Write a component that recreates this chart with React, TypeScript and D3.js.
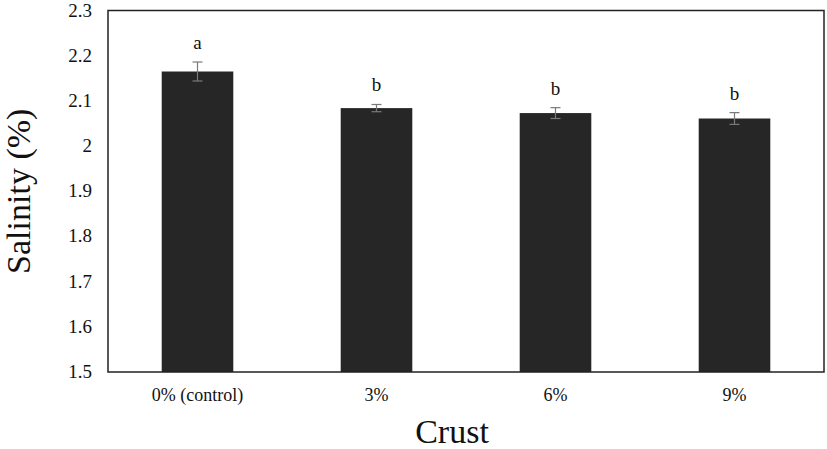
import React from "react";
import * as d3 from "d3";

const categories = ["0% (control)", "3%", "6%", "9%"];
const values = [2.165, 2.084, 2.073, 2.061];
const errors = [0.021, 0.008, 0.012, 0.013];
const letters = ["a", "b", "b", "b"];
const yTicks = [1.5, 1.6, 1.7, 1.8, 1.9, 2.0, 2.1, 2.2, 2.3];

const W = 827;
const H = 449;
const M = { left: 108, right: 3, top: 10.5, bottom: 77 };

export default function App() {
  const x = d3
    .scaleBand<string>()
    .domain(categories)
    .range([M.left, W - M.right])
    .paddingInner(0.6)
    .paddingOuter(0.3);
  const y = d3.scaleLinear().domain([1.5, 2.3]).range([H - M.bottom, M.top]);
  const font = "'Liberation Serif', 'Times New Roman', serif";
  const fmt = (v: number) => (Math.abs(v - 2) < 1e-9 ? "2" : d3.format(".1f")(v));
  return (
    <div style={{ position: "absolute", left: 0, top: 0 }}>
      <svg width={W} height={H} style={{ display: "block", background: "#fff" }}>
        {categories.map((c, i) => {
          const bx = x(c)!;
          const bw = x.bandwidth();
          const cx = bx + bw / 2;
          const top = y(values[i]);
          const eTop = y(values[i] + errors[i]);
          const eBot = y(values[i] - errors[i]);
          return (
            <g key={c}>
              <rect x={bx} y={top} width={bw} height={y(1.5) - top} fill="#262626" />
              <line x1={cx} x2={cx} y1={eTop} y2={eBot} stroke="#7a7a7a" strokeWidth={1.2} />
              <line x1={cx - 5} x2={cx + 5} y1={eTop} y2={eTop} stroke="#7a7a7a" strokeWidth={1.2} />
              <line x1={cx - 5} x2={cx + 5} y1={eBot} y2={eBot} stroke="#7a7a7a" strokeWidth={1.2} />
              <text x={cx} y={eTop - 13} textAnchor="middle" fontFamily={font} fontSize={19} fill="#111">
                {letters[i]}
              </text>
              <text x={cx} y={401} textAnchor="middle" fontFamily={font} fontSize={18} fill="#111">
                {c}
              </text>
            </g>
          );
        })}
        <rect
          x={M.left}
          y={M.top}
          width={W - M.right - M.left}
          height={H - M.bottom - M.top}
          fill="none"
          stroke="#222"
          strokeWidth={1.5}
        />
        {yTicks.map((t) => (
          <text
            key={t}
            x={92}
            y={y(t) + 6}
            textAnchor="end"
            fontFamily={font}
            fontSize={19}
            fill="#111"
          >
            {fmt(t)}
          </text>
        ))}
        <text
          transform={`translate(30, ${(M.top + H - M.bottom) / 2}) rotate(-90)`}
          textAnchor="middle"
          fontFamily={font}
          fontSize={34}
          fill="#111"
        >
          Salinity (%)
        </text>
        <text x={452} y={443} textAnchor="middle" fontFamily={font} fontSize={34} fill="#111">
          Crust
        </text>
      </svg>
    </div>
  );
}
